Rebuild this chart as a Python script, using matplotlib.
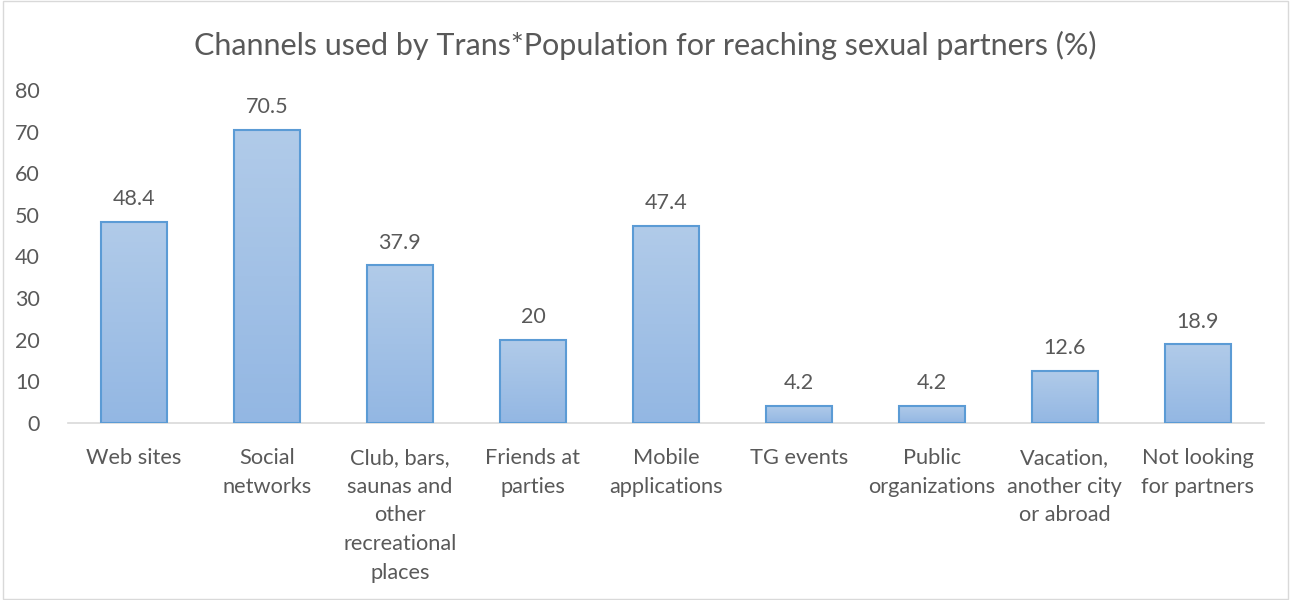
import matplotlib.pyplot as plt
import numpy as np
from matplotlib.colors import LinearSegmentedColormap

# Данные
categories = ["Web sites", "Social\nnetworks", "Club, bars,\nsaunas and\nother\nrecreational\nplaces",
              "Friends at\nparties", "Mobile\napplications", "TG events", "Public\norganizations",
              "Vacation,\nanother city\nor abroad", "Not looking\nfor partners"]
values = [48.4, 70.5, 37.9, 20, 47.4, 4.2, 4.2, 12.6, 18.9]
value_labels = ["48.4", "70.5", "37.9", "20", "47.4", "4.2", "4.2", "12.6", "18.9"]

plt.rcParams['font.family'] = ['Lato', 'DejaVu Sans']
txt = '#595959'

fig = plt.figure(figsize=(12.91, 6), dpi=100)
ax = fig.add_axes([0.0523, 0.295, 0.927, 0.555])

x = np.arange(len(values))
bars = ax.bar(x, values, width=0.5, color='none', edgecolor='#5b9bd5', linewidth=1.5, zorder=3)

# Градиентная заливка столбцов
cmap = LinearSegmentedColormap.from_list('g', ['#93b7e3', '#b1cbe9'])
grad = np.linspace(0, 1, 256).reshape(-1, 1)
for b in bars:
    x0, w, h = b.get_x(), b.get_width(), b.get_height()
    im = ax.imshow(grad, cmap=cmap, extent=[x0, x0 + w, 0, h], origin='lower',
                   aspect='auto', zorder=2)
    im.set_clip_path(b)

for xi, v, lab in zip(x, values, value_labels):
    ax.text(xi, v + 3, lab, ha='center', va='bottom', fontsize=15.5, color=txt)

ax.set_xlim(-0.5, len(values) - 0.5)
ax.set_ylim(0, 80)
ax.set_yticks(range(0, 81, 10))
ax.set_xticks(x)
ax.set_xticklabels(categories, fontsize=15.7, color=txt, linespacing=1.54)
ax.tick_params(axis='y', labelsize=15.5, labelcolor=txt, length=0, pad=20)
ax.tick_params(axis='x', length=0, pad=18)
for s in ['top', 'right', 'left']:
    ax.spines[s].set_visible(False)
ax.spines['bottom'].set_color('#d9d9d9')
ax.spines['bottom'].set_linewidth(1.2)

fig.text(0.5, 0.925, "Channels used by Trans*Population for reaching sexual partners (%)",
         ha='center', va='center', fontsize=22, color=txt)

# Рамка вокруг рисунка
fig.patches.append(plt.Rectangle((0.002, 0.002), 0.996, 0.996, transform=fig.transFigure,
                                 fill=False, edgecolor='#d9d9d9', linewidth=1))

fig.savefig('out.png', dpi=100)
